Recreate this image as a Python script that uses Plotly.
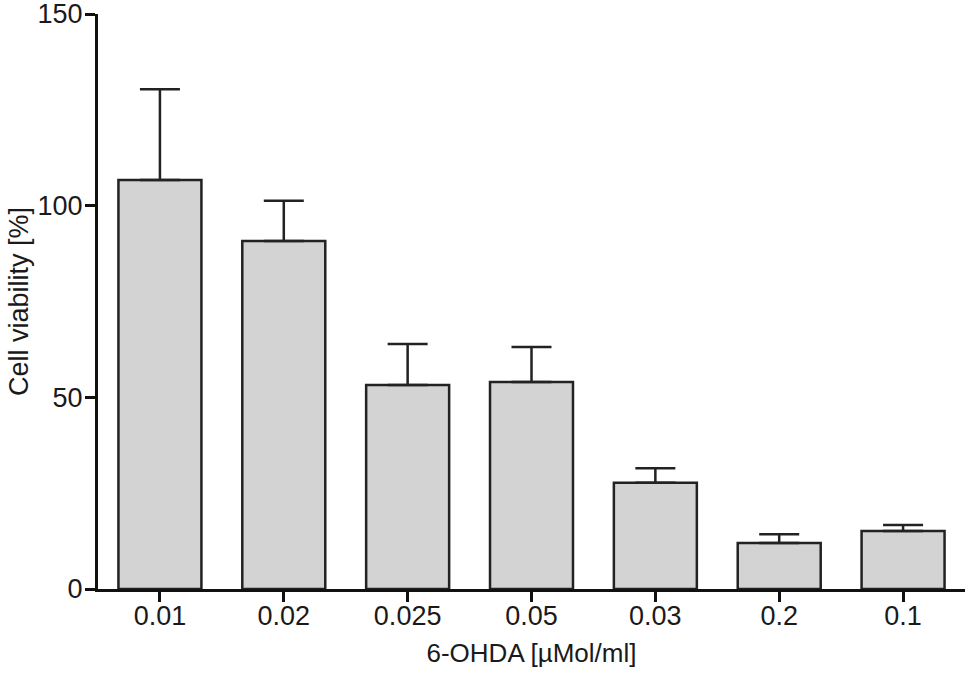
import plotly.graph_objects as go

categories = ["0.01", "0.02", "0.025", "0.05", "0.03", "0.2", "0.1"]
means = [106.7, 90.8, 53.2, 54.0, 27.7, 12.0, 15.1]
upper = [130.4, 101.3, 63.9, 63.1, 31.5, 14.3, 16.7]
errors = [u - m for u, m in zip(upper, means)]

ink = "#1a1a1a"
font_family = "Liberation Sans, Arial, sans-serif"

fig = go.Figure()
fig.add_trace(go.Bar(
    x=categories,
    y=means,
    width=0.67,
    marker=dict(color="#d3d3d3", line=dict(color="#222222", width=2.5)),
    error_y=dict(type="data", symmetric=False, array=errors,
                 arrayminus=[0] * len(errors),
                 color="#222222", thickness=2.5, width=20),
    showlegend=False,
))

fig.update_layout(
    width=968, height=676,
    margin=dict(l=98, r=3, t=14, b=87),
    plot_bgcolor="white", paper_bgcolor="white",
    font=dict(family=font_family, size=27, color=ink),
    xaxis=dict(
        type="category", range=[-0.5, 6.5], automargin=False,
        showline=True, linecolor="#111111", linewidth=3,
        ticks="outside", ticklen=10, tickwidth=3, tickcolor="#111111",
        ticklabelstandoff=-9,
        showgrid=False, zeroline=False,
        tickfont=dict(size=27, color=ink),
        title=dict(text="6-OHDA [µMol/ml]", font=dict(size=26, color=ink), standoff=14),
    ),
    yaxis=dict(
        range=[0, 150], tickvals=[0, 50, 100, 150], automargin=False,
        ticklabeloverflow="allow", ticklabelstandoff=-3,
        showline=True, linecolor="#111111", linewidth=3,
        ticks="outside", ticklen=10, tickwidth=3, tickcolor="#111111",
        showgrid=False, zeroline=False,
        tickfont=dict(size=27, color=ink),
        title=dict(text="Cell viability [%]", font=dict(size=27, color=ink), standoff=2),
    ),
)

fig.write_html("out.html",
               config={"displayModeBar": False},
               post_script="document.body.style.margin='0';document.body.style.overflow='hidden';")
